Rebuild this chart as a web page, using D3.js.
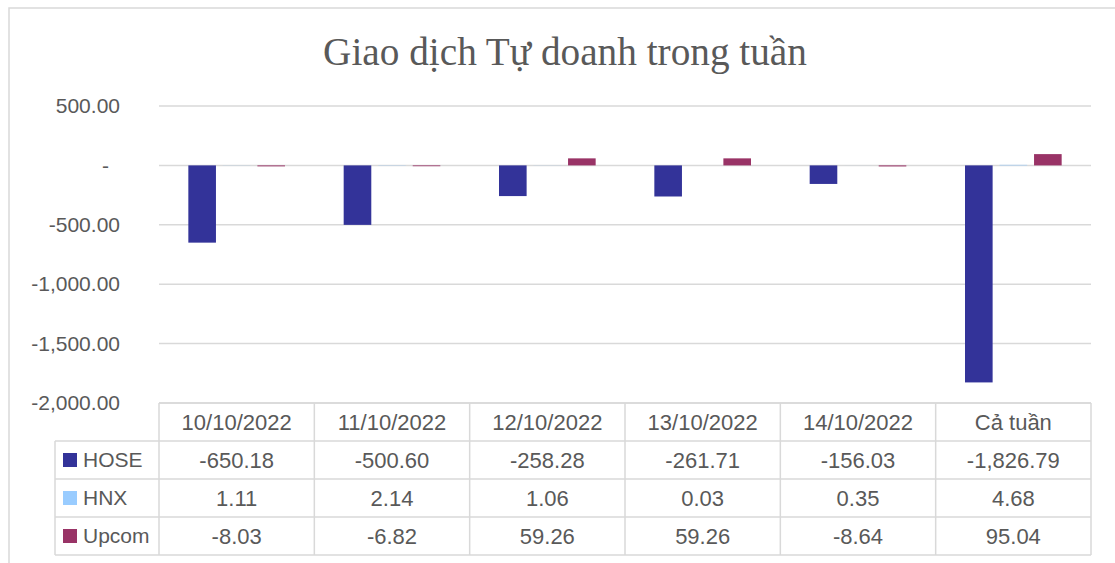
<!DOCTYPE html>
<html>
<head>
<meta charset="utf-8">
<script src="https://cdn.jsdelivr.net/npm/d3@7"></script>
<style>
  body { margin: 0; background: #fff; }
  svg { display: block; }
  text { fill: #595959; font-family: "Liberation Sans", Arial, sans-serif; }
</style>
</head>
<body>
<div id="chart"></div>
<script>
// data
var categories = ["10/10/2022", "11/10/2022", "12/10/2022", "13/10/2022", "14/10/2022", "Cả tuần"];
var seriesNames = ["HOSE", "HNX", "Upcom"];
var hose = [-650.18, -500.60, -258.28, -261.71, -156.03, -1826.79];
var hnx = [1.11, 2.14, 1.06, 0.03, 0.35, 4.68];
var upcom = [-8.03, -6.82, 59.26, 59.26, -8.64, 95.04];
var yTicks = [-2000, -1500, -1000, -500, 0, 500];
var colors = ["#333399", "#99ccff", "#993366"];
var title = "Giao dịch Tự doanh trong tuần";

var W = 1115, H = 563;
var plotL = 159, plotR = 1091, plotT = 106, plotB = 403;
var rowH = 38, legendL = 55;
var grid = "#d9d9d9";

var series = [hose, hnx, upcom];

var svg = d3.select("#chart").append("svg").attr("width", W).attr("height", H);

// outer chart border
svg.append("rect")
  .attr("x", 9).attr("y", 8).attr("width", 1112).attr("height", 600)
  .attr("fill", "none").attr("stroke", grid).attr("stroke-width", 1.5);

// title
var t = svg.append("text")
  .attr("x", 565).attr("y", 65)
  .attr("text-anchor", "middle")
  .style("font-family", "'Liberation Serif', 'DejaVu Serif', serif")
  .style("font-size", "40px")
  .text(title);
var tw = t.node().getComputedTextLength();
t.style("font-size", (40 * 484 / tw) + "px");

// scales
var x0 = d3.scaleBand().domain(categories).range([plotL, plotR]);
var x1 = d3.scaleBand().domain(seriesNames).range([0, x0.bandwidth()])
  .paddingInner(0.2).paddingOuter(0.85);
var y = d3.scaleLinear().domain([-2000, 500]).range([plotB, plotT]);

// gridlines
svg.append("g").selectAll("line")
  .data(yTicks).enter().append("line")
  .attr("x1", plotL).attr("x2", plotR)
  .attr("y1", function (d) { return y(d); })
  .attr("y2", function (d) { return y(d); })
  .attr("stroke", grid).attr("stroke-width", 1.5);

// number format with a plain hyphen as minus
var locale = d3.formatLocale({ decimal: ".", thousands: ",", grouping: [3], currency: ["", ""], minus: "-" });
var fmt = locale.format(",.2f");

// y axis
var yAxis = svg.append("g")
  .attr("transform", "translate(120,0)")
  .call(d3.axisLeft(y).tickValues(yTicks).tickSize(0).tickPadding(0)
    .tickFormat(function (d) { return d === 0 ? "-" : fmt(d); }));
yAxis.select(".domain").remove();
yAxis.selectAll("text").style("font-size", "21px").attr("fill", "#595959");
yAxis.selectAll(".tick").filter(function (d) { return d === 0; })
  .select("text").attr("dx", -11);

// bars
var groups = svg.append("g").selectAll("g")
  .data(categories).enter().append("g")
  .attr("transform", function (d) { return "translate(" + x0(d) + ",0)"; });

groups.selectAll("rect")
  .data(function (c, i) {
    return seriesNames.map(function (s, j) { return { name: s, value: series[j][i], color: colors[j] }; });
  })
  .enter().append("rect")
  .attr("x", function (d) { return x1(d.name); })
  .attr("width", x1.bandwidth())
  .attr("y", function (d) { return y(Math.max(0, d.value)); })
  .attr("height", function (d) { return Math.abs(y(d.value) - y(0)); })
  .attr("fill", function (d) { return d.color; });

// data table
var table = svg.append("g");
var tableB = plotB + rowH * 4;

// horizontal lines
table.append("line").attr("x1", plotL).attr("x2", plotR).attr("y1", plotB).attr("y2", plotB)
  .attr("stroke", grid).attr("stroke-width", 1.5);
[1, 2, 3, 4].forEach(function (r) {
  table.append("line").attr("x1", legendL).attr("x2", plotR)
    .attr("y1", plotB + r * rowH).attr("y2", plotB + r * rowH)
    .attr("stroke", grid).attr("stroke-width", 1.5);
});
// vertical lines
table.append("line").attr("x1", legendL).attr("x2", legendL)
  .attr("y1", plotB + rowH).attr("y2", tableB)
  .attr("stroke", grid).attr("stroke-width", 1.5);
categories.forEach(function (c) {
  table.append("line").attr("x1", x0(c)).attr("x2", x0(c))
    .attr("y1", plotB).attr("y2", tableB)
    .attr("stroke", grid).attr("stroke-width", 1.5);
});
table.append("line").attr("x1", plotR).attr("x2", plotR)
  .attr("y1", plotB).attr("y2", tableB)
  .attr("stroke", grid).attr("stroke-width", 1.5);

// header
table.selectAll("text.head")
  .data(categories).enter().append("text")
  .attr("class", "head")
  .attr("x", function (d) { return x0(d) + x0.bandwidth() / 2; })
  .attr("y", plotB + rowH / 2)
  .attr("dy", "0.35em")
  .attr("text-anchor", "middle")
  .style("font-size", "22px")
  .text(function (d) { return d; });

// series rows
seriesNames.forEach(function (s, j) {
  var cy = plotB + rowH * (j + 1) + rowH / 2;
  table.append("rect")
    .attr("x", 63).attr("y", cy - 7).attr("width", 14).attr("height", 14)
    .attr("fill", colors[j]);
  table.append("text")
    .attr("x", 83).attr("y", cy).attr("dy", "0.35em")
    .style("font-size", "21px")
    .text(s);
  table.selectAll("text.v" + j)
    .data(series[j]).enter().append("text")
    .attr("class", "v" + j)
    .attr("x", function (d, i) { return x0(categories[i]) + x0.bandwidth() / 2; })
    .attr("y", cy).attr("dy", "0.35em")
    .attr("text-anchor", "middle")
    .style("font-size", "22px")
    .text(function (d) { return fmt(d); });
});
</script>
</body>
</html>
